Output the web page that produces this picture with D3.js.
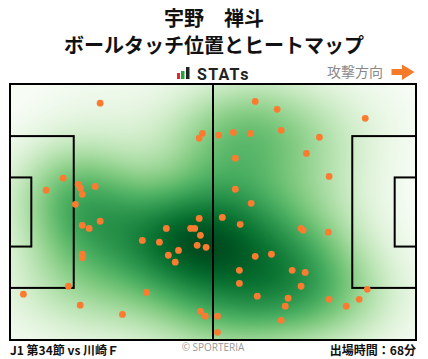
<!DOCTYPE html>
<html>
<head>
<meta charset="utf-8">
<script src="https://cdn.jsdelivr.net/npm/d3@7"></script>
<style>
  body { margin: 0; background: #fff; }
  svg { display: block; }
</style>
</head>
<body>
<svg id="chart"></svg>
<script>
var w = 428, h = 359;

// touch positions on a 0-100 pitch grid (x: own goal -> attack, y: top -> bottom)
var touchX = [22.2, 47.4, 46.6, 13.1, 8.9, 16.8, 17.3, 21.0, 17.8, 16.1,
  60.4, 65.8, 87.5, 51.4, 55.0, 59.2, 66.8, 76.2, 55.5, 73.0,
  78.6, 55.5, 59.4, 52.3, 17.8, 19.5, 22.2, 17.8, 17.8, 14.4,
  3.3, 17.3, 27.7, 33.6, 32.6, 36.8, 38.5, 39.0, 40.7, 41.5,
  44.5, 45.5, 46.6, 46.9, 46.1, 48.3, 46.9, 48.1, 56.7, 71.7,
  72.2, 78.4, 60.4, 64.4, 56.5, 56.5, 69.5, 72.7, 71.7, 60.9,
  68.5, 67.8, 78.6, 82.8, 86.0, 88.0, 51.1, 51.1, 66.8];
var touchY = [7.5, 19.3, 21.2, 36.8, 41.5, 39.2, 40.7, 40.0, 43.1, 47.0,
  6.8, 9.9, 13.4, 20.0, 18.9, 19.3, 18.1, 20.8, 29.0, 27.1,
  36.1, 41.1, 46.6, 52.1, 55.2, 56.4, 53.6, 66.5, 67.9, 79.0,
  82.1, 86.4, 90.0, 81.4, 61.1, 61.8, 56.4, 66.9, 69.6, 65.0,
  56.4, 56.4, 52.5, 59.1, 63.0, 63.8, 88.8, 90.7, 54.8, 56.4,
  57.1, 57.9, 67.3, 66.5, 72.8, 77.9, 72.8, 73.6, 79.0, 82.9,
  83.7, 86.8, 84.1, 86.8, 84.1, 80.2, 90.7, 97.0, 92.3];

var titleLines = ["宇野　禅斗", "ボールタッチ位置とヒートマップ"];
var matchLabel = "J1 第34節 vs 川崎Ｆ";
var minutesLabel = "出場時間：68分";

var cjk = "'Noto Sans CJK JP', 'Noto Sans', sans-serif";

var svg = d3.select("#chart")
  .attr("width", w)
  .attr("height", h);

// pitch scales
var xScale = d3.scaleLinear().domain([0, 100]).range([10, 416]);
var yScale = d3.scaleLinear().domain([0, 100]).range([84, 340]);

// heat map: gaussian density drawn on a canvas, placed as an image
var pw = 406, ph = 256;
var canvas = document.createElement("canvas");
canvas.width = pw;
canvas.height = ph;
var ctx = canvas.getContext("2d");
var img = ctx.createImageData(pw, ph);
var sx = 48, sy = 40;
var px = touchX.map(function(d) { return xScale(d) - 10; });
var py = touchY.map(function(d) { return yScale(d) - 84; });
var dens = new Float32Array(pw * ph);
var maxD = 0;
for (var j = 0; j < ph; j++) {
  for (var i = 0; i < pw; i++) {
    var s = 0;
    for (var k = 0; k < px.length; k++) {
      var dx = i + 0.5 - px[k], dy = j + 0.5 - py[k];
      s += Math.exp(-(dx * dx) / (2 * sx * sx) - (dy * dy) / (2 * sy * sy));
    }
    dens[j * pw + i] = s;
    if (s > maxD) maxD = s;
  }
}
var floor = maxD * 0.04;
var color = d3.scaleSequential(function(t) { return d3.interpolateGreens(Math.pow(t, 0.95) * 0.98); })
  .domain([floor, maxD]);
for (var n = 0; n < dens.length; n++) {
  var c = d3.rgb(color(Math.max(dens[n], floor)));
  img.data[n * 4] = c.r;
  img.data[n * 4 + 1] = c.g;
  img.data[n * 4 + 2] = c.b;
  img.data[n * 4 + 3] = 255;
}
ctx.putImageData(img, 0, 0);

svg.append("image")
  .attr("x", xScale(0))
  .attr("y", yScale(0))
  .attr("width", pw)
  .attr("height", ph)
  .attr("preserveAspectRatio", "none")
  .attr("href", canvas.toDataURL());

// pitch lines
var lines = svg.append("g")
  .attr("fill", "none")
  .attr("stroke", "#000")
  .attr("stroke-width", 2);

lines.append("rect")
  .attr("x", xScale(0))
  .attr("y", yScale(0))
  .attr("width", xScale(100) - xScale(0))
  .attr("height", yScale(100) - yScale(0));

lines.append("line")
  .attr("x1", xScale(50)).attr("x2", xScale(50))
  .attr("y1", yScale(0)).attr("y2", yScale(100));

var boxW = 15.7, boxTop = 20.35, goalW = 5.25, goalTop = 36.5;
[0, 1].forEach(function(side) {
  var bx = side ? xScale(100 - boxW) : xScale(0);
  var gx = side ? xScale(100 - goalW) : xScale(0);
  lines.append("rect")
    .attr("x", bx)
    .attr("y", yScale(boxTop))
    .attr("width", xScale(boxW) - xScale(0))
    .attr("height", yScale(100 - boxTop) - yScale(boxTop));
  lines.append("rect")
    .attr("x", gx)
    .attr("y", yScale(goalTop))
    .attr("width", xScale(goalW) - xScale(0))
    .attr("height", yScale(100 - goalTop) - yScale(goalTop));
});

// touches
svg.append("g")
  .selectAll("circle")
  .data(touchX)
  .enter()
  .append("circle")
  .attr("cx", function(d) { return xScale(d); })
  .attr("cy", function(d, i) { return yScale(touchY[i]); })
  .attr("r", 3.4)
  .attr("fill", "#fb7c30");

// title
svg.selectAll(".title")
  .data(titleLines)
  .enter()
  .append("text")
  .attr("class", "title")
  .attr("x", 214)
  .attr("y", function(d, i) { return 26 + i * 27; })
  .attr("text-anchor", "middle")
  .attr("font-family", cjk)
  .attr("font-weight", 700)
  .attr("font-size", 20)
  .attr("fill", "#111")
  .text(function(d) { return d; });

// STATs logo
var logo = svg.append("g");
logo.append("rect").attr("x", 177).attr("y", 73).attr("width", 3).attr("height", 6).attr("fill", "#e8262a");
logo.append("rect").attr("x", 181).attr("y", 71).attr("width", 3.5).attr("height", 8).attr("fill", "#1fa83a");
logo.append("rect").attr("x", 186).attr("y", 67).attr("width", 3.5).attr("height", 12).attr("fill", "#222");
logo.append("text")
  .attr("x", 197)
  .attr("y", 79.5)
  .attr("font-family", "Roboto, sans-serif")
  .attr("font-weight", 700)
  .attr("font-size", 16)
  .attr("letter-spacing", 1.3)
  .attr("fill", "#222")
  .text("STATs");

// attack direction
svg.append("text")
  .attr("x", 383)
  .attr("y", 77)
  .attr("text-anchor", "end")
  .attr("font-family", cjk)
  .attr("font-size", 14)
  .attr("fill", "#888")
  .text("攻撃方向");
svg.append("path")
  .attr("d", "M391.5,69H402V64.5L414.5,72L402,80V75H391.5Z")
  .attr("fill", "#f57a2a");

// footer
svg.append("text")
  .attr("x", 10)
  .attr("y", 355)
  .attr("font-family", cjk)
  .attr("font-weight", 700)
  .attr("font-size", 12)
  .attr("fill", "#111")
  .text(matchLabel);
svg.append("text")
  .attr("x", 213)
  .attr("y", 351)
  .attr("text-anchor", "middle")
  .attr("font-family", "'Open Sans', sans-serif")
  .attr("font-size", 10)
  .attr("fill", "#999")
  .text("© SPORTERIA");
svg.append("text")
  .attr("x", 416)
  .attr("y", 355)
  .attr("text-anchor", "end")
  .attr("font-family", cjk)
  .attr("font-weight", 700)
  .attr("font-size", 12)
  .attr("fill", "#111")
  .text(minutesLabel);
</script>
</body>
</html>
